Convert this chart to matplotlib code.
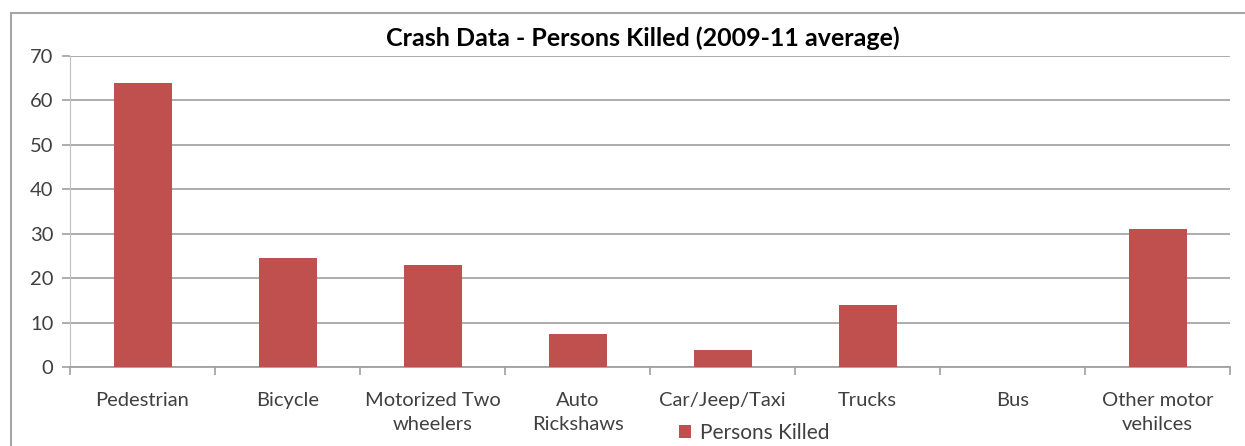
import matplotlib.pyplot as plt
import numpy as np
from matplotlib.patches import Rectangle

categories = ["Pedestrian", "Bicycle", "Motorized Two\nwheelers", "Auto\nRickshaws",
              "Car/Jeep/Taxi", "Trucks", "Bus", "Other motor\nvehilces"]
persons_killed = [64, 24.5, 23, 7.4, 3.8, 14, 0, 31.1]
yticks = [0, 10, 20, 30, 40, 50, 60, 70]

plt.rcParams['font.family'] = ['Lato', 'DejaVu Sans']

fig = plt.figure(figsize=(12.45, 4.46), dpi=100)
W, H = 1245, 446
ax = fig.add_axes([70 / W, 1 - 367 / H, (1230 - 70) / W, (367 - 56) / H])

# chart frame
fig.patches.append(Rectangle((11 / W, -0.1), 1.2, 1 - 13 / H + 0.1, transform=fig.transFigure,
                             fill=False, edgecolor='#a6a6a6', linewidth=1.5))

x = np.arange(len(categories))
ax.bar(x, persons_killed, width=0.4, color='#c0504d', label='Persons Killed', zorder=3)

ax.set_xlim(-0.5, len(categories) - 0.5)
ax.set_ylim(0, 70)
ax.set_yticks(yticks)
ax.tick_params(axis='y', labelsize=14.5, length=6, width=1.2, pad=6,
               labelcolor='#404040', color='#a0a0a0')
ax.set_xticks(x)
ax.set_xticklabels(categories, fontsize=14.5, color='#404040', linespacing=1.5)
ax.set_xticks(np.arange(len(categories) + 1) - 0.5, minor=True)
ax.tick_params(axis='x', which='major', length=0, pad=18)
ax.tick_params(axis='x', which='minor', length=6, color='#a0a0a0', width=1.2)
ax.grid(axis='y', color='#a6a6a6', linewidth=1.3, zorder=0)

for side in ['top', 'right']:
    ax.spines[side].set_visible(False)
ax.spines['left'].set_color('#c0c0c0')
ax.spines['bottom'].set_color('#a0a0a0')
ax.spines['bottom'].set_linewidth(1.3)

fig.text(643 / W, 1 - 38 / H, "Crash Data - Persons Killed (2009-11 average)",
         ha='center', va='center', fontsize=18, fontweight='bold', color='black')

fig.legend(loc='center', bbox_to_anchor=(754 / W, 1 - 433 / H), frameon=False,
           fontsize=15, handlelength=0.6, handleheight=0.6, handletextpad=0.4,
           labelcolor='#404040', borderpad=0)

fig.savefig("out.png", dpi=100)
